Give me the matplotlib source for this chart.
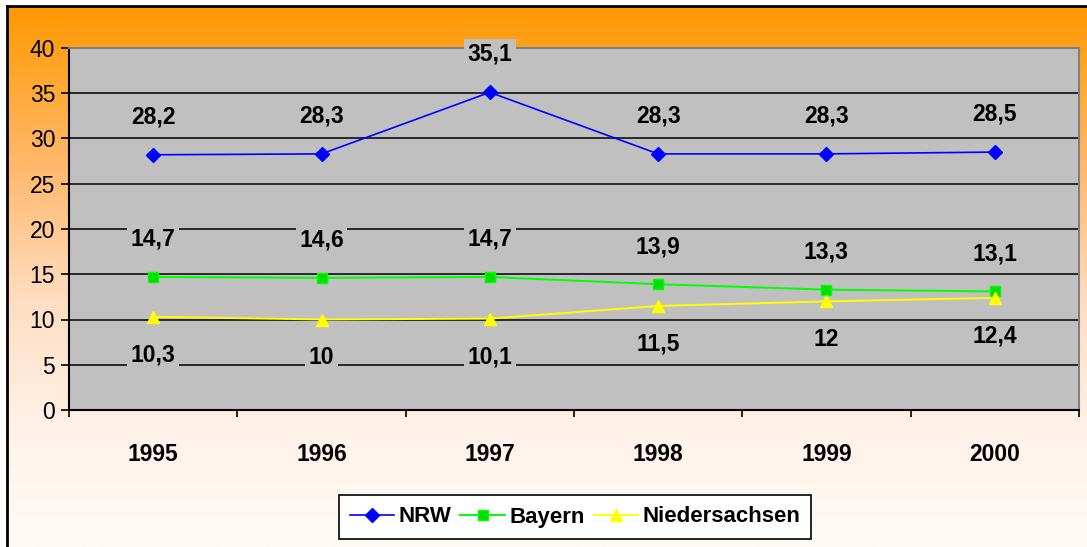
import numpy as np
import matplotlib
matplotlib.use("Agg")
import matplotlib.pyplot as plt
from matplotlib.lines import Line2D

years = ["1995", "1996", "1997", "1998", "1999", "2000"]
nrw = [28.2, 28.3, 35.1, 28.3, 28.3, 28.5]
bayern = [14.7, 14.6, 14.7, 13.9, 13.3, 13.1]
niedersachsen = [10.3, 10, 10.1, 11.5, 12, 12.4]

W, H = 1087, 547
plt.rcParams["font.family"] = ["Liberation Sans", "DejaVu Sans"]

fig = plt.figure(figsize=(W / 100, H / 100), dpi=100)
fig.patch.set_facecolor("white")

# orange -> white gradient background
bg = fig.add_axes([7 / W, 0, 1 - 7 / W, 1 - 6 / H])
t = np.linspace(0, 1, 300)
stops = [0, 0.3, 0.55, 0.8, 1]
r = np.full_like(t, 255)
g = np.interp(t, stops, [153, 185, 222, 243, 250])
b = np.interp(t, stops, [0, 110, 195, 235, 246])
grad = np.stack([r, g, b], axis=1)[:, None, :] / 255
bg.imshow(np.repeat(grad, 2, axis=1), aspect="auto", extent=[0, 1, 0, 1])
bg.set_axis_off()
fig.add_artist(Line2D([7 / W, 7 / W], [0, 1 - 6 / H], color="black", lw=2))
fig.add_artist(Line2D([7 / W, 1], [1 - 6 / H, 1 - 6 / H], color="black", lw=2))

ax = fig.add_axes([69 / W, (H - 410) / H, (1079 - 69) / W, (410 - 48) / H])
ax.set_facecolor("#C0C0C0")
x = np.arange(len(years))

ax.plot(x, nrw, color="#0000FF", lw=1.2, marker="D", ms=7, label="NRW", zorder=3)
ax.plot(x, bayern, color="#00FF00", lw=1.4, marker="s", ms=6.5, mfc="#00DD00",
        mec="#00FF00", label="Bayern", zorder=3)
ax.plot(x, niedersachsen, color="#FFFF00", lw=1.4, marker="^", ms=8.5,
        label="Niedersachsen", zorder=3)

def labels(vals, dy):
    for xi, v in zip(x, vals):
        ax.annotate(f"{v:g}".replace(".", ","), (xi, v), xytext=(0, dy),
                    textcoords="offset points", ha="center", va="center",
                    fontsize=16.5, fontweight="bold", zorder=4,
                    annotation_clip=False,
                    bbox=dict(boxstyle="square,pad=0.15", fc="#C0C0C0", ec="none"))

labels(nrw, 27.5)
labels(bayern, 27)
labels(niedersachsen, -27.5)

ax.set_xlim(-0.5, 5.5)
ax.set_ylim(0, 40)
ax.set_yticks(range(0, 41, 5))
ax.yaxis.grid(True, color="black", lw=1.1)
ax.set_axisbelow(True)
ax.tick_params(axis="y", length=6, width=1.2, pad=4, labelsize=16.5)

ax.set_xticks(x)
ax.set_xticklabels(years, fontweight="bold", fontsize=16.5)
ax.set_xticks(np.arange(-0.5, 6, 1), minor=True)
ax.tick_params(axis="x", which="major", length=0, pad=24)
ax.tick_params(axis="x", which="minor", length=5, width=1.2)

for s in ["left", "bottom"]:
    ax.spines[s].set_color("black")
    ax.spines[s].set_linewidth(1.5)
for s in ["top", "right"]:
    ax.spines[s].set_color("#808080")
    ax.spines[s].set_linewidth(1.5)

leg = fig.legend(loc="center", bbox_to_anchor=(575 / W, (H - 517) / H), ncol=3,
                 frameon=True, fancybox=False, edgecolor="black", facecolor="white",
                 framealpha=1, handlelength=2.0, handletextpad=0.2, columnspacing=0.4,
                 borderpad=0.5, prop={"weight": "bold", "size": 16})
leg.get_frame().set_linewidth(1.2)

fig.savefig("out.png", dpi=100)
